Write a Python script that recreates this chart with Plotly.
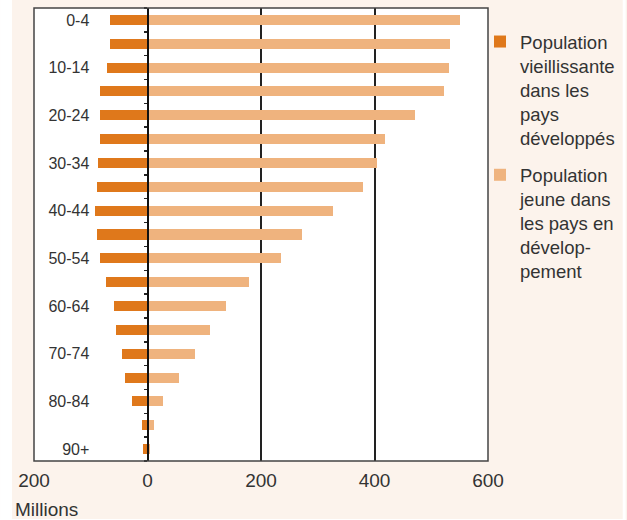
import plotly.graph_objects as go

age_groups = ["0-4", "5-9", "10-14", "15-19", "20-24", "25-29", "30-34", "35-39",
              "40-44", "45-49", "50-54", "55-59", "60-64", "65-69", "70-74",
              "75-79", "80-84", "85-89", "90+"]
age_tick_text = ["0-4", "", "10-14", "", "20-24", "", "30-34", "", "40-44", "",
                 "50-54", "", "60-64", "", "70-74", "", "80-84", "", "90+"]
developed_aging = [66, 66, 72, 84, 84, 84, 87, 89, 93, 89, 84, 73, 59, 56, 45, 40, 28, 10, 8]
developing_young = [551, 533, 531, 523, 472, 419, 405, 380, 326, 273, 236, 178, 139, 111, 83, 55, 27, 11, 4]
x_range = [-200, 600]
x_tick_vals = [-200, 0, 200, 400, 600]
x_tick_text = ["200", "0", "200", "400", "600"]
legend_names = ["Population<br>vieillissante<br>dans les<br>pays<br>développés",
                "Population<br>jeune dans<br>les pays en<br>dévelop-<br>pement"]

DARK = "#DF781B"
LIGHT = "#EFB37E"
PEACH = "#FCF3EC"
TXT = "#333333"
FONT = "Liberation Sans, Arial, sans-serif"

fig = go.Figure()
fig.add_trace(go.Bar(y=age_groups, x=[-v for v in developed_aging], orientation="h",
                     name=legend_names[0], marker=dict(color=DARK, line=dict(width=0)),
                     width=0.42, legendgroup="a"))
fig.add_trace(go.Bar(y=age_groups, x=developing_young, orientation="h",
                     name=legend_names[1], marker=dict(color=LIGHT, line=dict(width=0)),
                     width=0.42, legendgroup="b"))

zero_pos = (0 - x_range[0]) / (x_range[1] - x_range[0])

W, H = 627, 520
ml, mr, mt, mb = 34, 138, 8, 59
pw, ph = W - ml - mr, H - mt - mb

def px_x(p):
    return (p - ml) / pw

def px_y(p):
    return (H - mb - p) / ph

fig.update_layout(
    width=W, height=H, autosize=False,
    margin=dict(l=ml, r=mr, t=mt, b=mb, pad=0),
    paper_bgcolor=PEACH, plot_bgcolor="white",
    barmode="overlay", bargap=0,
    font=dict(family=FONT, color=TXT),
    showlegend=True,
    legend=dict(x=px_x(480), y=px_y(23), xanchor="left", yanchor="top",
                font=dict(size=18.5, color=TXT), valign="top",
                traceorder="grouped", tracegroupgap=10,
                bgcolor="rgba(0,0,0,0)", borderwidth=0),
    xaxis=dict(range=x_range, tickmode="array", tickvals=x_tick_vals, ticktext=x_tick_text,
               showgrid=True, gridcolor="#222222", gridwidth=2,
               zeroline=False, showline=False, ticks="",
               tickfont=dict(size=19, color=TXT), ticklabelstandoff=6, fixedrange=True),
    yaxis=dict(type="category", categoryorder="array", categoryarray=age_groups,
               range=[len(age_groups) - 0.5, -0.5],
               anchor="free", position=zero_pos,
               tickson="boundaries", ticks="outside", ticklen=3, tickwidth=1.5, tickcolor="#222",
               showline=True, linecolor="#111", linewidth=2, showgrid=False, zeroline=False,
               tickmode="array", tickvals=age_groups, ticktext=age_tick_text,
               ticklabelstandoff=54, tickfont=dict(size=16, color=TXT), fixedrange=True),
    shapes=[
        dict(type="rect", xref="paper", yref="paper", x0=0, x1=1, y0=0, y1=1,
             line=dict(color="#444", width=1.5), layer="above"),
        dict(type="rect", xref="paper", yref="paper", x0=px_x(0), x1=px_x(12), y0=px_y(H), y1=px_y(0),
             fillcolor="white", line=dict(width=0), layer="above"),
        dict(type="rect", xref="paper", yref="paper", x0=px_x(624), x1=px_x(W), y0=px_y(H), y1=px_y(0),
             fillcolor="white", line=dict(width=0), layer="above"),
        dict(type="rect", xref="paper", yref="paper", x0=px_x(0), x1=px_x(W), y0=px_y(H), y1=px_y(519),
             fillcolor="white", line=dict(width=0), layer="above"),
    ],
    annotations=[dict(text="Millions", xref="paper", yref="paper", x=px_x(13), y=px_y(510),
                      xanchor="left", yanchor="middle", showarrow=False,
                      font=dict(size=19, color=TXT))],
)

fig.write_html("out.html", config={"displayModeBar": False, "staticPlot": True},
               post_script="document.body.style.margin='0px';document.body.style.overflow='hidden';")
